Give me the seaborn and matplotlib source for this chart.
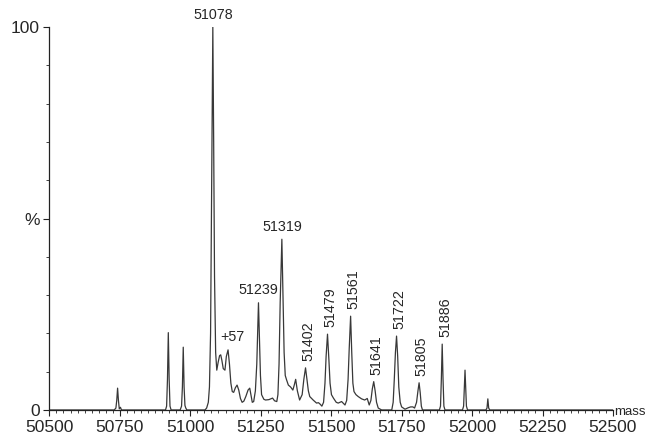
import numpy as np
import pandas as pd
import matplotlib
matplotlib.use("Agg")
import matplotlib.pyplot as plt
from matplotlib.ticker import MultipleLocator
import seaborn as sns

# spectrum trace (mass, % intensity)
mass = [50500, 50730, 50736, 50739, 50742, 50745, 50748, 50752, 50756,
        50912, 50916, 50919, 50922, 50925, 50928, 50932,
        50964, 50969, 50972, 50975, 50978, 50981, 50984, 50988,
        51052, 51058, 51064, 51068, 51072, 51076, 51080, 51083, 51086, 51090,
        51094, 51099, 51104, 51108, 51112, 51117, 51123, 51128, 51134, 51139,
        51144, 51149, 51154, 51160, 51166, 51172, 51178, 51184, 51190, 51197,
        51205, 51211, 51215, 51220, 51225, 51231, 51236, 51239, 51242, 51245,
        51249, 51253, 51261, 51267, 51279, 51292, 51299, 51307, 51311, 51315,
        51319, 51325, 51329, 51333, 51337, 51342, 51348, 51356, 51364, 51369,
        51374, 51380, 51388, 51397, 51403, 51409, 51414, 51419, 51424, 51436,
        51448, 51455, 51461, 51467, 51473, 51478, 51482, 51487, 51492, 51496,
        51501, 51508, 51518, 51525, 51537, 51549, 51555, 51560, 51564, 51569,
        51573, 51577, 51581, 51588, 51596, 51608, 51619, 51628, 51635, 51641,
        51646, 51651, 51656, 51661, 51667, 51679, 51715, 51720, 51724, 51728,
        51732, 51736, 51740, 51745, 51750, 51762, 51774, 51782, 51790, 51796,
        51803, 51808, 51812, 51816, 51820, 51824,
        51884, 51888, 51891, 51894, 51897, 51900, 51904,
        51966, 51970, 51972, 51975, 51978, 51980, 51984,
        52049, 52053, 52056, 52059, 52063, 52500]
pct = [0, 0, 0.5, 2.5, 5.7, 2.5, 0.3, 0.7, 0,
       0, 1, 8, 20.2, 8, 1, 0,
       0, 1, 6, 16.4, 6, 1.2, 0.5, 0,
       0, 0.5, 2, 6, 20, 60, 100, 70, 35, 15,
       10.4, 12.5, 14.2, 14.4, 13, 10.8, 10.4, 14, 15.7, 12,
       7, 4.8, 4.6, 5.8, 6.5, 5.2, 3, 2, 2.3, 3.5,
       5.2, 5.7, 4, 2, 2.2, 5, 12, 20, 28, 20,
       9, 4, 2.8, 2.6, 2.7, 3.1, 2.4, 2.2, 4, 12,
       28, 44.6, 30, 15, 9, 7.8, 6.5, 6, 5.2, 6.5,
       8, 5, 2.6, 4, 8, 11, 8, 5, 3.5, 2.6,
       1.8, 1.9, 1.5, 1, 2, 7, 14, 19.8, 13, 7,
       4, 3.1, 2, 1.8, 2.2, 1.3, 2.5, 8, 16, 24.5,
       15, 7, 4.8, 4, 3.5, 2.9, 2.6, 3, 1.3, 2.5,
       5.5, 7.4, 5, 2, 0.5, 0, 0, 2, 8, 15,
       19.3, 14, 6, 2, 0.8, 0.2, 0.6, 0.8, 0.8, 0.5,
       2, 5, 7.1, 4.5, 1, 0,
       0, 1, 8, 17.2, 8, 1, 0,
       0, 1, 5, 10.4, 5, 1, 0,
       0, 0.5, 2.9, 0.5, 0, 0]

# annotated peaks (text, apex position in the trace)
flat_labels = ["51078", "+57", "51239", "51319"]
flat_mass = [51080, 51134, 51242, 51325]
flat_pct = [100, 15.7, 28, 44.6]

side_labels = ["51402", "51479", "51561", "51641", "51722", "51805", "51886"]
side_mass = [51409, 51487, 51569, 51651, 51732, 51812, 51894]
side_pct = [11, 19.8, 24.5, 7.4, 19.3, 7.1, 17.2]

x_ticks = [50500, 50750, 51000, 51250, 51500, 51750, 52000, 52250, 52500]
y_ticks = [0, 50, 100]
y_tick_labels = ["0", "%", "100"]

sns.set_style("ticks")
plt.rcParams["font.family"] = ["Liberation Sans", "DejaVu Sans"]

fig = plt.figure(figsize=(6.5, 4.38), dpi=100)
ax = fig.add_axes([0.076, 0.064, 0.867, 0.874])

df = pd.DataFrame({"mass": mass, "pct": pct})
sns.lineplot(data=df, x="mass", y="pct", ax=ax, color="#383838",
             linewidth=0.9, estimator=None, sort=False)

ax.set_xlim(50500, 52500)
ax.set_ylim(0, 100)
ax.set_xlabel("")
ax.set_ylabel("")

ax.set_xticks(x_ticks)
ax.set_xticklabels([str(t) for t in x_ticks])
ax.set_yticks(y_ticks)
ax.set_yticklabels(y_tick_labels)
ax.xaxis.set_minor_locator(MultipleLocator(25))
ax.yaxis.set_minor_locator(MultipleLocator(10))
ax.tick_params(which="major", length=4, width=0.8, color="#222222",
               labelsize=12.5, pad=3)
ax.tick_params(which="minor", length=2, width=0.6, color="#222222")

sns.despine(ax=ax)
for side in ["left", "bottom"]:
    ax.spines[side].set_linewidth(0.9)
    ax.spines[side].set_color("#222222")

for txt, m, p in zip(flat_labels, flat_mass, flat_pct):
    # the +57 tag sits a little to the right of its peak
    dx = 3 if txt.startswith("+") else 0
    ax.annotate(txt, xy=(m, p), xytext=(dx, 4), textcoords="offset points",
                ha="center", va="bottom", fontsize=10.3,
                annotation_clip=False)

for txt, m, p in zip(side_labels, side_mass, side_pct):
    ax.annotate(txt, xy=(m, p), xytext=(2, 5), textcoords="offset points",
                ha="center", va="bottom", rotation=90, fontsize=10.3,
                annotation_clip=False)

ax.text(1.002, -0.013, "mass", transform=ax.transAxes, ha="left",
        va="baseline", fontsize=9.5)

fig.savefig("out.png", dpi=100)
